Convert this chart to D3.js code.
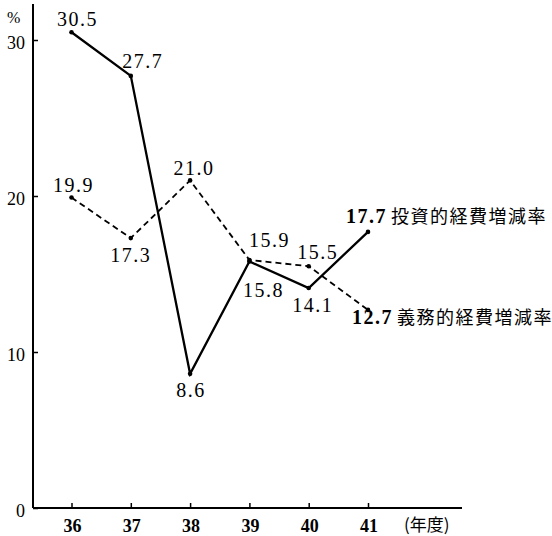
<!DOCTYPE html>
<html><head><meta charset="utf-8">
<script src="https://cdn.jsdelivr.net/npm/d3@7"></script>
<style>body{margin:0;background:#fff}svg{display:block}</style>
</head><body><svg id="c" width="552" height="536"></svg>
<script>
const years = [36, 37, 38, 39, 40, 41];
const investment = [30.5, 27.7, 8.6, 15.8, 14.1, 17.7];   // 投資的経費増減率 (solid)
const obligatory = [19.9, 17.3, 21.0, 15.9, 15.5, 12.7];  // 義務的経費増減率 (dashed)
const yTicks = [0, 10, 20, 30];
const seriesNames = ["投資的経費増減率", "義務的経費増減率"];
const yUnit = "%";
const xUnit = "(年度)";

const svg = d3.select("#c");
const x = d3.scaleLinear().domain([36, 41]).range([71.5, 368]);
const y = d3.scaleLinear().domain([0, 30]).range([508, 40]);
const axisX0 = 33, axisXEnd = 462;
const numFont = "'Liberation Serif', 'DejaVu Serif', serif";
const cjkFont = "'Noto Sans CJK JP', sans-serif";

// axes
const gy = svg.append("g").attr("transform", `translate(${axisX0},0)`)
  .call(d3.axisRight(y).tickValues(yTicks).tickSize(5).tickFormat(""));
gy.select(".domain").remove();
gy.selectAll("line").attr("stroke", "#000").attr("stroke-width", 1.5);
svg.append("line").attr("x1", axisX0).attr("x2", axisX0).attr("y1", 4).attr("y2", y(0))
  .attr("stroke", "#000").attr("stroke-width", 2);

const gx = svg.append("g").attr("transform", `translate(0,${y(0)})`)
  .call(d3.axisTop(x).tickValues(years).tickSize(5).tickFormat(""));
gx.select(".domain").remove();
gx.selectAll("line").attr("stroke", "#000").attr("stroke-width", 1.5);
svg.append("line").attr("x1", axisX0).attr("x2", axisXEnd).attr("y1", y(0)).attr("y2", y(0))
  .attr("stroke", "#000").attr("stroke-width", 2);

// tick labels
svg.selectAll(".ylab").data(yTicks).enter().append("text")
  .attr("x", 25).attr("y", d => y(d) + 9).attr("text-anchor", "end")
  .attr("font-family", numFont).attr("font-size", 18).text(d => d);
svg.append("text").attr("x", 7).attr("y", 23).attr("font-family", numFont)
  .attr("font-size", 16).text(yUnit);
svg.selectAll(".xlab").data(years).enter().append("text")
  .attr("x", d => x(d) + 1).attr("y", 532).attr("text-anchor", "middle")
  .attr("font-family", numFont).attr("font-size", 18).attr("font-weight", "bold").text(d => d);
svg.append("text").attr("x", 404).attr("y", 531).attr("font-family", cjkFont)
  .attr("font-size", 17).text(xUnit);

// lines
const line = d3.line().x((d, i) => x(years[i])).y(d => y(d));
svg.append("path").datum(obligatory).attr("d", line).attr("fill", "none")
  .attr("stroke", "#000").attr("stroke-width", 1.8).attr("stroke-dasharray", "6,4");
svg.append("path").datum(investment).attr("d", line).attr("fill", "none")
  .attr("stroke", "#000").attr("stroke-width", 2.3).attr("stroke-linejoin", "miter");
[investment, obligatory].forEach(s => {
  svg.selectAll(null).data(s).enter().append("circle")
    .attr("cx", (d, i) => x(years[i])).attr("cy", d => y(d)).attr("r", 2.3).attr("fill", "#000");
});

// data labels: offsets [dx, dy] relative to point
const invOff = [[6, -6], [12, -8], [1, 23], [14, 35], [4, 24], [null, null]];
const oblOff = [[2, -6], [0, 24], [4, -5], [20, -13], [9, -7], [null, null]];
function fmt(v) { return v.toFixed(1); }
function labels(s, off, weight) {
  s.forEach((v, i) => {
    if (off[i][0] === null) return;
    svg.append("text").attr("x", x(years[i]) + off[i][0]).attr("y", y(v) + off[i][1])
      .attr("text-anchor", "middle").attr("font-family", numFont).attr("font-size", 20)
      .attr("letter-spacing", 1.5).attr("font-weight", weight).text(fmt(v));
  });
}
labels(investment, invOff, "normal");
labels(obligatory, oblOff, "normal");

// end labels
const li = investment.length - 1;
const g1 = svg.append("text").attr("x", 346).attr("y", y(investment[li]) - 9);
g1.append("tspan").attr("font-family", numFont).attr("font-size", 20).attr("font-weight", "bold")
  .attr("letter-spacing", 1.5).text(fmt(investment[li]));
g1.append("tspan").attr("dx", 4).attr("font-family", cjkFont).attr("font-size", 18)
  .attr("letter-spacing", 1.5).text(seriesNames[0]);
const g2 = svg.append("text").attr("x", 352).attr("y", y(obligatory[li]) + 14);
g2.append("tspan").attr("font-family", numFont).attr("font-size", 20).attr("font-weight", "bold")
  .attr("letter-spacing", 1.5).text(fmt(obligatory[li]));
g2.append("tspan").attr("dx", 4).attr("font-family", cjkFont).attr("font-size", 18)
  .attr("letter-spacing", 1.5).text(seriesNames[1]);
</script></body></html>
